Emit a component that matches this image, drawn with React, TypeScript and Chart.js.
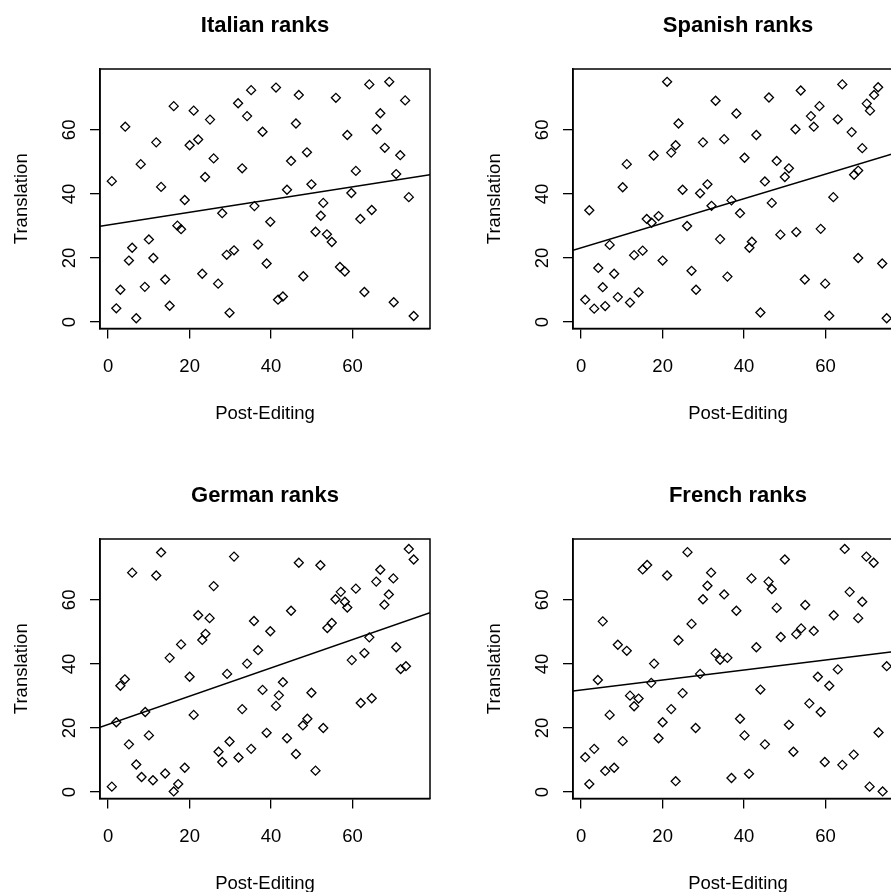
import React, { useEffect, useRef } from "react";
import { Chart, registerables } from "chart.js";

Chart.register(...registerables);

const TITLES = ["Italian ranks", "Spanish ranks", "German ranks", "French ranks"];
const X_LABEL = "Post-Editing";
const Y_LABEL = "Translation";
const TICK_VALUES = [0, 20, 40, 60];
const TICK_LABELS = ["0", "20", "40", "60"];
const AXIS_MIN = -2;
const AXIS_MAX = 79;

const italianPostEditing = [
  35.1, 16.1, 21.0, 31.9, 34.1, 25.0, 4.2, 37.9, 11.8, 20.0, 22.1, 8.0, 25.9, 32.9, 0.9, 13.0, 23.8, 18.8, 35.9, 28.0,
  17.0, 17.9, 39.8, 10.0, 5.9, 5.1, 11.1, 36.8, 29.1, 30.9, 38.9, 23.1, 14.0, 27.0, 3.0, 9.0, 15.1, 2.0, 6.9, 29.8,
  41.2, 46.8, 55.9, 64.1, 69.0, 72.9, 46.1, 66.8, 65.9, 58.7, 48.8, 44.9, 67.9, 71.7, 60.8, 70.7, 43.9, 49.9, 59.7, 73.8,
  52.8, 52.2, 61.9, 64.7, 50.9, 53.7, 54.9, 56.9, 58.1, 47.9, 41.7, 42.9, 62.9, 70.1, 75.0,
];
const italianTranslation = [
  72.4, 67.4, 66.0, 68.3, 64.3, 63.2, 61.0, 59.4, 56.1, 55.2, 57.0, 49.3, 51.1, 48.0, 44.0, 42.2, 45.3, 38.1, 36.2, 34.0,
  30.1, 29.0, 31.3, 25.8, 23.2, 19.2, 20.0, 24.2, 21.0, 22.4, 18.3, 15.1, 13.3, 12.0, 10.1, 11.0, 5.1, 4.3, 1.2, 2.9,
  73.2, 70.9, 70.0, 74.2, 75.0, 69.2, 62.0, 65.2, 60.2, 58.4, 53.0, 50.3, 54.4, 52.1, 47.2, 46.2, 41.3, 43.0, 40.3, 39.0,
  37.2, 33.2, 32.2, 35.0, 28.2, 27.4, 25.0, 17.2, 15.8, 14.3, 7.0, 8.0, 9.4, 6.2, 1.9,
];

const spanishPostEditing = [
  21.1, 33.0, 23.9, 11.2, 23.2, 22.1, 17.8, 29.9, 10.2, 24.9, 29.2, 31.0, 2.0, 32.0, 16.1, 17.3, 19.0, 26.0, 7.0, 13.0,
  15.1, 20.0, 4.2, 8.1, 27.1, 5.3, 28.2, 14.1, 1.0, 9.0, 12.0, 3.2, 5.9,
  46.1, 53.9, 64.1, 72.9, 71.9, 70.1, 70.9, 38.1, 58.5, 56.4, 63.0, 57.1, 52.6, 66.4, 35.1, 43.0, 69.0, 40.1, 48.0, 51.0,
  50.0, 67.0, 68.0, 45.1, 61.9, 46.8, 36.9, 39.0, 34.1, 41.9, 41.3, 48.9, 52.8, 58.8, 68.0, 73.9, 35.9, 54.9, 59.9, 44.0,
  60.9, 75.0,
];
const spanishTranslation = [
  75.0, 69.1, 62.0, 49.3, 55.2, 52.9, 52.0, 56.1, 42.1, 41.3, 40.2, 43.0, 34.9, 36.3, 32.2, 31.0, 33.1, 30.0, 24.1, 20.9,
  22.3, 19.2, 16.9, 15.1, 16.0, 10.9, 10.1, 9.3, 7.0, 7.8, 6.1, 4.2, 5.0,
  70.1, 72.3, 74.2, 73.3, 70.9, 68.2, 66.0, 65.1, 67.4, 64.3, 63.3, 61.0, 60.2, 59.3, 57.1, 58.4, 54.3, 51.3, 50.3, 48.0,
  45.3, 46.0, 47.3, 43.9, 39.0, 37.2, 38.0, 34.0, 25.9, 25.1, 23.2, 27.3, 28.1, 29.1, 20.0, 18.3, 14.2, 13.3, 12.0, 3.0,
  2.0, 1.2,
];

const germanPostEditing = [
  13.0, 30.9, 5.9, 11.8, 25.9, 22.1, 24.9, 35.8, 39.8, 23.9, 23.1, 17.9, 15.1, 36.8, 34.1, 4.1, 3.0, 20.0, 29.2, 37.9,
  2.0, 9.1, 21.0, 32.9, 10.0, 5.1, 38.9, 29.8, 27.1, 28.0, 32.0, 35.1, 6.9, 18.8, 14.0, 8.2, 11.0, 17.2, 0.9, 16.1,
  73.8, 75.0, 46.8, 52.1, 66.8, 65.8, 70.0, 60.8, 57.1, 55.8, 58.1, 58.7, 68.9, 67.8, 44.9, 54.9, 53.8, 64.1, 70.7, 62.9,
  59.8, 71.8, 73.1, 42.9, 41.9, 41.2, 49.9, 62.0, 64.7, 47.8, 48.9, 52.8, 43.9, 46.1, 50.9,
];
const germanTranslation = [
  74.8, 73.5, 68.5, 67.6, 64.3, 55.2, 54.3, 53.4, 50.2, 49.4, 47.5, 46.1, 41.9, 44.3, 40.1, 35.2, 33.2, 36.0, 36.9, 31.9,
  21.8, 25.0, 24.1, 25.9, 17.7, 14.9, 18.5, 15.8, 12.6, 9.4, 10.8, 13.5, 8.6, 7.6, 5.8, 4.7, 3.7, 2.5, 1.7, 0.2,
  75.9, 72.6, 71.6, 70.8, 69.4, 65.7, 66.7, 63.5, 62.5, 60.2, 59.4, 57.6, 61.7, 58.5, 56.6, 52.8, 51.2, 48.3, 45.2, 43.4,
  41.2, 38.4, 39.3, 34.3, 30.2, 26.9, 31.0, 27.8, 29.3, 20.8, 22.9, 20.0, 16.8, 11.9, 6.7,
];

const frenchPostEditing = [
  26.1, 15.1, 16.2, 21.1, 31.9, 31.0, 29.9, 5.3, 27.1, 9.0, 11.2, 23.9, 33.0, 17.9, 4.1, 17.2, 29.2, 12.0, 14.1, 13.0,
  24.9, 22.1, 7.0, 20.0, 28.1, 19.0, 10.2, 1.0, 3.2, 5.9, 8.1, 2.0, 23.2,
  64.7, 70.0, 71.8, 50.0, 41.8, 46.0, 46.8, 35.1, 65.9, 69.0, 38.1, 48.0, 55.0, 62.0, 68.0, 54.0, 52.8, 57.1, 49.0, 43.0,
  34.1, 35.9, 63.0, 75.0, 58.1, 60.9, 44.0, 56.0, 58.8, 39.0, 40.1, 51.0, 73.0, 45.1, 52.1, 59.8, 64.1, 66.9, 36.9, 41.2,
  70.8, 74.0,
];
const frenchTranslation = [
  74.9, 69.5, 70.9, 67.6, 68.5, 64.4, 60.2, 53.3, 52.5, 46.0, 44.1, 47.4, 43.3, 40.1, 35.0, 34.1, 36.9, 30.1, 29.2, 26.8,
  30.9, 25.9, 24.1, 21.8, 20.0, 16.8, 15.9, 10.9, 13.5, 6.6, 7.6, 2.5, 3.4,
  75.9, 73.5, 71.6, 72.6, 66.7, 65.7, 63.4, 61.7, 62.5, 59.4, 56.6, 57.5, 58.4, 55.2, 54.3, 51.1, 49.3, 50.3, 48.4, 45.2,
  41.3, 41.9, 38.3, 39.3, 36.0, 33.2, 32.0, 27.7, 25.0, 22.9, 17.7, 21.0, 18.6, 14.9, 12.6, 9.4, 8.5, 11.7, 4.4, 5.7,
  1.7, 0.2,
];

const FIT_INTERCEPTS = [30.3, 23.2, 21.1, 31.9];
const FIT_SLOPES = [0.199, 0.383, 0.442, 0.156];

const POST_EDITING = [italianPostEditing, spanishPostEditing, germanPostEditing, frenchPostEditing];
const TRANSLATION = [italianTranslation, spanishTranslation, germanTranslation, frenchTranslation];

const FONT = "'Liberation Sans', Arial, sans-serif";
const PANEL_W = 473;
const PANEL_H = 470;

const boxPlugin = {
  id: "rbox",
  afterDatasetsDraw(chart: any) {
    const { ctx, chartArea: a } = chart;
    ctx.save();
    ctx.strokeStyle = "#000";
    ctx.lineWidth = 1.5;
    ctx.strokeRect(a.left, a.top, a.right - a.left, a.bottom - a.top);
    ctx.restore();
  },
};

function Panel({ index }: { index: number }) {
  const ref = useRef<HTMLCanvasElement>(null);
  useEffect(() => {
    const xs = POST_EDITING[index];
    const ys = TRANSLATION[index];
    const pts = xs.map((x, i) => ({ x, y: ys[i] }));
    const b0 = FIT_INTERCEPTS[index];
    const b1 = FIT_SLOPES[index];
    const fit = [AXIS_MIN, AXIS_MAX].map((x) => ({ x, y: b0 + b1 * x }));
    const labelFont = { family: FONT, size: 18.5, lineHeight: 1.2 };
    const chart = new Chart(ref.current as HTMLCanvasElement, {
      type: "scatter",
      data: {
        datasets: [
          {
            data: pts,
            pointStyle: "rectRot",
            pointRadius: 4.5,
            pointBorderColor: "#000",
            pointBackgroundColor: "rgba(0,0,0,0)",
            pointBorderWidth: 1.3,
            showLine: false,
          } as any,
          {
            data: fit,
            showLine: true,
            borderColor: "#000",
            borderWidth: 1.5,
            pointRadius: 0,
            fill: false,
          } as any,
        ],
      },
      options: {
        responsive: false,
        animation: false,
        events: [],
        layout: { padding: { left: 0, right: 43, top: 0, bottom: 0 } },
        plugins: {
          legend: { display: false },
          tooltip: { enabled: false },
          title: {
            display: true,
            text: TITLES[index],
            fullSize: false,
            color: "#000",
            font: { family: FONT, size: 22, weight: "bold", lineHeight: 1.2 },
            padding: { top: 13, bottom: 29.6 },
          },
        },
        scales: {
          x: {
            type: "linear",
            min: AXIS_MIN,
            max: AXIS_MAX,
            afterBuildTicks: (s: any) => {
              s.ticks = TICK_VALUES.map((v) => ({ value: v }));
            },
            afterFit: (s: any) => {
              s.height = 141.5;
            },
            grid: { drawOnChartArea: false, drawTicks: true, tickLength: 10, color: "#000", lineWidth: 1.3 },
            border: { display: true, color: "#000", width: 1.5 },
            ticks: {
              color: "#000",
              font: labelFont,
              padding: 17.5,
              maxRotation: 0,
              autoSkip: false,
              callback: (_v: any, i: number) => TICK_LABELS[i],
            },
            title: {
              display: true,
              text: X_LABEL,
              color: "#000",
              font: labelFont,
              padding: { top: 0, bottom: 44.5 },
            },
          },
          y: {
            type: "linear",
            min: AXIS_MIN,
            max: AXIS_MAX,
            afterBuildTicks: (s: any) => {
              s.ticks = TICK_VALUES.map((v) => ({ value: v }));
            },
            afterFit: (s: any) => {
              s.width = 100;
            },
            grid: { drawOnChartArea: false, drawTicks: true, tickLength: 10, color: "#000", lineWidth: 1.3 },
            border: { display: true, color: "#000", width: 1.5 },
            ticks: {
              color: "#000",
              font: labelFont,
              padding: 10,
              minRotation: 90,
              maxRotation: 90,
              crossAlign: "center",
              autoSkip: false,
              callback: (_v: any, i: number) => TICK_LABELS[i],
            },
            title: {
              display: true,
              text: Y_LABEL,
              color: "#000",
              font: labelFont,
              padding: { top: 10.9, bottom: 0 },
            },
          },
        },
      } as any,
      plugins: [boxPlugin],
    });
    return () => chart.destroy();
  }, [index]);
  return <canvas ref={ref} width={PANEL_W} height={PANEL_H} style={{ display: "block" }} />;
}

export default function App() {
  return (
    <div
      style={{
        position: "absolute",
        left: 0,
        top: 0,
        width: 891,
        height: 892,
        overflow: "hidden",
        background: "#fff",
      }}
    >
      {TITLES.map((_t, i) => (
        <div
          key={i}
          style={{
            position: "absolute",
            left: (i % 2) * PANEL_W,
            top: Math.floor(i / 2) * PANEL_H,
            width: PANEL_W,
            height: PANEL_H,
          }}
        >
          <Panel index={i} />
        </div>
      ))}
    </div>
  );
}
